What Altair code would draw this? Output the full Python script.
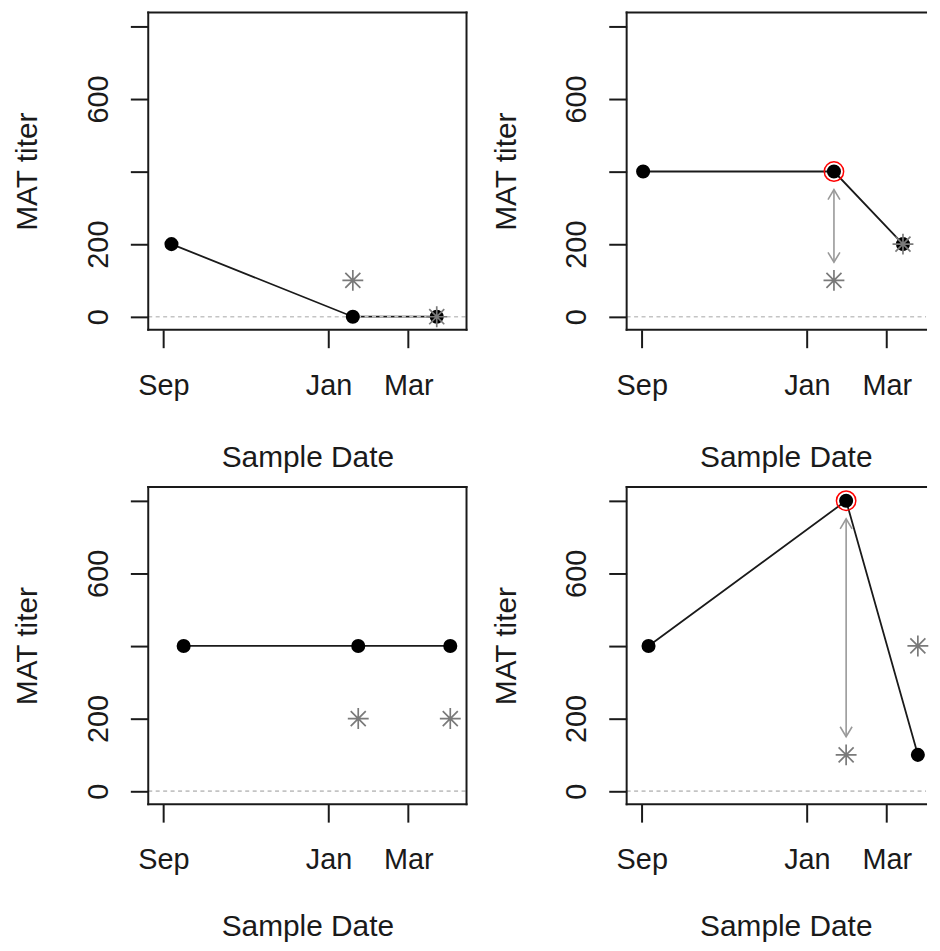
import altair as alt
import pandas as pd
from datetime import datetime

# ---------------- data ----------------
sample_dates = [
    ["2012-09-07", "2013-01-19", "2013-03-22"],
    ["2012-09-02", "2013-01-21", "2013-03-13"],
    ["2012-09-16", "2013-01-23", "2013-04-01"],
    ["2012-09-06", "2013-01-30", "2013-03-24"],
]
mat_titer = [
    [200, 0, 0],
    [400, 400, 200],
    [400, 400, 400],
    [400, 800, 100],
]
star_dates = [
    ["2013-01-19", "2013-03-22"],
    ["2013-01-21", "2013-03-13"],
    ["2013-01-23", "2013-04-01"],
    ["2013-01-30", "2013-03-24"],
]
star_titer = [
    [100, 0],
    [100, 200],
    [200, 200],
    [100, 400],
]
ring_date = [None, "2013-01-21", None, "2013-01-30"]
ring_titer = [None, 400, None, 800]
arrow_from = [None, 350, None, 750]
arrow_to = [None, 150, None, 150]

y_ticks = [0, 200, 400, 600, 800]
y_hidden_labels = [400, 800]
x_tick_dates = [datetime(2012, 9, 1), datetime(2013, 1, 1), datetime(2013, 3, 1)]

# ---------------- styling / layout ----------------
FONT = "Liberation Sans"
INK = "#1a1a1a"
W_LEFT, W_RIGHT, H = 320, 301, 319

x_start = datetime(2012, 8, 20, 20, 0)
x_end_left = datetime(2013, 4, 13, 0, 0)
x_end_right = x_start + (x_end_left - x_start) * (W_RIGHT / W_LEFT)
y_domain = [-36, 838]


def dt(d):
    return alt.DateTime(year=d.year, month=d.month, date=d.day,
                        hours=d.hour, minutes=d.minute, utc=True)


def panel(i, width, right_edge, title_y):
    x_end = x_end_left if width == W_LEFT else x_end_right
    x_axis = alt.Axis(
        title="Sample Date", values=[dt(d) for d in x_tick_dates],
        labelExpr="utcFormat(datum.value, '%b')",
        domain=False, grid=False, ticks=True, tickSize=18, tickWidth=2,
        tickColor=INK, labelFont=FONT, labelFontSize=29, labelColor=INK,
        labelBaseline="alphabetic", labelAlign="center", labelPadding=47,
        labelFlush=False, labelOverlap=False,
        titleFont=FONT, titleFontSize=30, titleFontWeight="normal",
        titleColor=INK, titleBaseline="alphabetic", titleAlign="center",
        titleX=160, titleY=title_y,
    )
    hide = " || ".join(f"datum.value == {v}" for v in y_hidden_labels)
    y_axis = alt.Axis(
        title="MAT titer", values=y_ticks,
        labelExpr=f"({hide}) ? '' : datum.label",
        domain=False, grid=False, ticks=True, tickSize=18, tickWidth=2,
        tickColor=INK, labelFont=FONT, labelFontSize=29, labelColor=INK,
        labelAngle=270, labelAlign="center", labelBaseline="alphabetic",
        labelPadding=23, labelFlush=False, labelOverlap=False,
        titleFont=FONT, titleFontSize=30, titleFontWeight="normal",
        titleColor=INK, titleAngle=270, titleAlign="center",
        titleBaseline="alphabetic", titleX=-112, titleY=H / 2,
    )
    x = alt.X("date:T", axis=x_axis,
              scale=alt.Scale(type="utc", domain=[dt(x_start), dt(x_end)], nice=False))
    y = alt.Y("titer:Q", axis=y_axis,
              scale=alt.Scale(domain=y_domain, nice=False, zero=False))

    df = pd.DataFrame({"date": sample_dates[i], "titer": mat_titer[i]})
    stars = pd.DataFrame({"date": star_dates[i], "titer": star_titer[i]})

    layers = []
    layers.append(alt.Chart(df).mark_line(color=INK, strokeWidth=1.8).encode(x=x, y=y))
    layers.append(
        alt.Chart(pd.DataFrame({"titer": [0]}))
        .mark_rule(color="#c4c4c4", strokeWidth=1.6, strokeDash=[4, 3.5])
        .encode(y=y, x=alt.value(0), x2=alt.value(width))
    )
    layers.append(
        alt.Chart(df).mark_circle(color="black", size=200, opacity=1).encode(x=x, y=y)
    )
    layers.append(
        alt.Chart(stars).mark_point(
            shape="M-1,0L1,0M0,-1L0,1M-0.72,-0.72L0.72,0.72M-0.72,0.72L0.72,-0.72",
            filled=False, stroke="#7a7a7a", strokeWidth=1.7, size=441, opacity=1,
        ).encode(x=x, y=y)
    )
    if ring_date[i] is not None:
        ring = pd.DataFrame({"date": [ring_date[i]], "titer": [ring_titer[i]]})
        layers.append(
            alt.Chart(ring).mark_point(shape="circle", filled=False, stroke="#ff0000",
                                       strokeWidth=1.5, size=380, opacity=1)
            .encode(x=x, y=y)
        )
        arr = pd.DataFrame({"date": [ring_date[i]], "titer": [arrow_from[i]],
                            "titer2": [arrow_to[i]]})
        layers.append(
            alt.Chart(arr).mark_rule(color="#999999", strokeWidth=1.6)
            .encode(x=x, y=y, y2="titer2:Q")
        )
        top = pd.DataFrame({"date": [ring_date[i]], "titer": [arrow_from[i]]})
        bot = pd.DataFrame({"date": [ring_date[i]], "titer": [arrow_to[i]]})
        layers.append(
            alt.Chart(top).mark_point(shape="M-1.2,2L0,0L1.2,2", filled=False,
                                      stroke="#999999", strokeWidth=1.6, size=100, opacity=1)
            .encode(x=x, y=y)
        )
        layers.append(
            alt.Chart(bot).mark_point(shape="M-1.2,-2L0,0L1.2,-2", filled=False,
                                      stroke="#999999", strokeWidth=1.6, size=100, opacity=1)
            .encode(x=x, y=y)
        )

    # plot frame (box)
    one = pd.DataFrame({"k": [0]})
    fr = dict(color=INK, strokeWidth=2, strokeCap="square")
    layers.append(alt.Chart(one).mark_rule(**fr).encode(
        x=alt.value(0), x2=alt.value(width), y=alt.value(0)))
    layers.append(alt.Chart(one).mark_rule(**fr).encode(
        x=alt.value(0), x2=alt.value(width), y=alt.value(H)))
    layers.append(alt.Chart(one).mark_rule(**fr).encode(
        x=alt.value(0), y=alt.value(0), y2=alt.value(H)))
    if right_edge:
        layers.append(alt.Chart(one).mark_rule(**fr).encode(
            x=alt.value(width), y=alt.value(0), y2=alt.value(H)))

    return alt.layer(*layers).properties(width=width, height=H)


panels = [
    panel(0, W_LEFT, True, 137),
    panel(1, W_RIGHT, False, 137),
    panel(2, W_LEFT, True, 132),
    panel(3, W_RIGHT, False, 132),
]

chart = (
    alt.concat(*panels, columns=2, spacing={"row": 158, "column": 161}, bounds="flush")
    .properties(padding={"left": 5, "top": 0, "right": 0, "bottom": 0},
                background="white")
    .configure(font=FONT)
    .configure_view(stroke=None)
)

chart.save("out.html", embed_options={"renderer": "svg", "actions": False})
